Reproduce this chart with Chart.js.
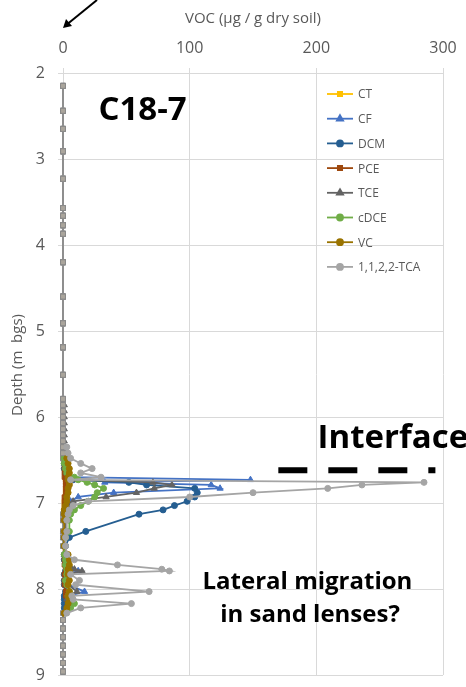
<!DOCTYPE html>
<html>
<head>
<meta charset="utf-8">
<script src="https://cdn.jsdelivr.net/npm/chart.js@4.4.1/dist/chart.umd.min.js"></script>
<style>
  html, body { margin:0; padding:0; background:#fff; }
  #wrap { width:466px; height:687px; }
</style>
</head>
<body>
<div id="wrap"><canvas id="c18"></canvas></div>
<script>
// core C18-7, depth below ground surface (m)
const depth = [
  2.15, 2.44, 2.65, 2.91, 3.23, 3.57, 3.66, 3.77,
  3.87, 4.2, 4.6, 4.91, 5.19, 5.51, 5.79, 5.86,
  5.93, 6.0, 6.07, 6.14, 6.21, 6.28, 6.35, 6.42,
  6.48, 6.54, 6.6, 6.65, 6.7, 6.73, 6.76, 6.79,
  6.83, 6.88, 6.93, 6.98, 7.03, 7.08, 7.13, 7.2,
  7.33, 7.4, 7.5, 7.6, 7.66, 7.72, 7.77, 7.79,
  7.83, 7.9, 7.95, 8.03, 8.08, 8.12, 8.17, 8.22,
  8.28, 8.36, 8.46, 8.56, 8.66, 8.76, 8.86, 8.96
];

// concentrations, ug/g dry soil (0 = not detected, null = not analysed)
const ct = [
  0, 0, 0, 0, 0, 0, 0, 0,
  0, 0, 0, 0, 0, 0, 0, 0,
  0, 0, 0, 0, 0, 0, 0, 1,
  1, 2, 2, 3, 3, 2, 3, 3,
  2, 2, 2, 1, 1, 1, 1, 0,
  0, 0, 1, 2, 3, 3, 2, 3,
  3, 2, 3, 2, 3, 2, 3, 2,
  1, 0, 0, 0, 0, 0, 0, 0
];
const cf = [
  0, 0, 0, 0, 0, 0, 0, 0,
  0, 0, 0, 0, 0, 0, 0, 0,
  0, 0, 0, 0, 0, 0, 0, 1,
  1, 1, 2, 3, 5, 148, 33, 117,
  124, 40, 12, 6, 3, 2, 1, 1,
  0.5, 0.5, 0.5, 1, 2, 3, 6, 12,
  4, 3, 4, 17, 5, 3, 6, 3,
  1, 0, 0, 0, 0, 0, 0, 0
];
const dcm = [
  0, 0, 0, 0, 0, 0, 0, 0,
  0, 0, 0, 0, 0, 0, 0, 0,
  0, 0, 0, 0, 0, 0, 0, 0,
  0, 1, 1, 2, 3, 8, 52, 66,
  104, 106, 104, 98, 88, 79, 60, null,
  18, 5, 2, 1, 1, 2, 3, 2,
  1, 1, 1, 2, 1, 1, 1, 1,
  0, 0, 0, 0, 0, 0, 0, 0
];
const pce = [
  0, 0, 0, 0, 0, 0, 0, 0,
  0, 0, 0, 0, 0, 0, 0, 0,
  0, 0, 0, 0, 0, 0, 0, 0,
  1, 1, 1, 1, 1, 2, 2, 2,
  2, 2, 1, 1, 1, 1, 0, 0,
  0, 0, 0, 1, 1, 1, 2, 2,
  1, 1, 1, 2, 2, 3, 4, 3,
  1, 0, 0, 0, 0, 0, 0, 0
];
const tce = [
  0, 0, 0, 0, 0, 0, 0, 0,
  0, 0, 0, 0, 0, 0, 0, 1,
  1, 1, 1, 1, 1, 1, 2, 2,
  2, 2, 3, 3, 4, 10, 71, 86,
  72, 58, 34, 8, 4, 3, 2, 2,
  2, 1, 1, 2, 3, 5, 9, 15,
  4, 3, 4, 11, 4, 3, 5, 3,
  1, 0, 0, 0, 0, 0, 0, 0
];
const cdce = [
  0, 0, 0, 0, 0, 0, 0, 0,
  0, 0, 0, 0, 0, 0, 0, 0,
  0, 0, 0, 0, 0, 0, 0, 0,
  1, 1, 2, 3, 9, 12, 19, 25,
  32, 27, 25, 20, 14, 9, 6, 5,
  5, 2, 1, 1, 2, 2, 3, 4,
  3, 2, 3, 5, 4, 5, 9, 6,
  2, 0, 0, 0, 0, 0, 0, 0
];
const vc = [
  0, 0, 0, 0, 0, 0, 0, 0,
  0, 0, 0, 0, 0, 0, 0, 0,
  0, 0, 0, 0, 0, 0, 0, 0,
  3, 4, 5, 5, 4, 4, 5, 5,
  4, 4, 3, 3, 2, 1, 1, 1,
  1, 1, 1, 4, 5, 5, 4, 5,
  4, 5, 4, 5, 4, 5, 4, 3,
  1, 0, 0, 0, 0, 0, 0, 0
];
const tca = [
  0, 0, 0, 0, 0, 0, 0, 0,
  0, 0, 0, 0, 0, 0, 0, 0,
  0, 0, 0, 0, 0, 0, 3, 4,
  6, 14, 23, 14, 30, 6, 285, 236,
  209, 150, 100, 20, 8, 5, 4, 3,
  3, 2, 2, 3, 9, 43, 78, 84,
  6, 13, 10, 68, 7, 8, 54, 14,
  3, 0, 0, 0, 0, 0, 0, 0
];

const compounds = ['CT', 'CF', 'DCM', 'PCE', 'TCE', 'cDCE', 'VC', '1,1,2,2-TCA'];
const colours = ['#FFC000', '#4472C4', '#255E91', '#9E480E', '#636363', '#70AD47', '#997300', '#A5A5A5'];
const markers = ['rect', 'triangle', 'circle', 'rect', 'triangle', 'circle', 'circle', 'circle'];
const series = [ct, cf, dcm, pce, tce, cdce, vc, tca];

const vocRange = [0, 300];
const vocStep = 100;
const depthRange = [2, 9];
const depthStep = 1;

const AXIS_GREY = '#595959';
const ND_FILL = '#aaa59c';
const ND_EDGE = '#8a8a8a';
const isND = c => c.raw && c.raw.x === 0;

const datasets = series.map((vals, i) => ({
  label: compounds[i],
  data: vals.map((v, k) => ({ x: v, y: depth[k] })),
  showLine: true,
  spanGaps: true,
  borderColor: colours[i],
  backgroundColor: colours[i],
  borderWidth: 1.8,
  pointStyle: c => isND(c) ? 'rect' : markers[i],
  pointRadius: c => isND(c) ? 3.5 : (markers[i] === 'triangle' ? 3.6 : 3),
  pointBackgroundColor: c => isND(c) ? ND_FILL : colours[i],
  pointBorderColor: c => isND(c) ? ND_EDGE : colours[i],
  pointBorderWidth: 1,
  segment: {
    borderColor: s => (s.p0.parsed.x === 0 && s.p1.parsed.x === 0) ? '#8f8f8f' : undefined
  },
  order: series.length - i,
  clip: false
}));

// titles, key and field notes
const notes = {
  id: 'notes',
  afterDraw(chart) {
    const c = chart.ctx;
    const xs = chart.scales.x, ys = chart.scales.y, a = chart.chartArea;
    c.save();

    c.fillStyle = AXIS_GREY;
    c.font = '15px "Open Sans"';
    c.textAlign = 'center';
    c.textBaseline = 'middle';
    c.fillText('VOC (µg / g dry soil)', (a.left + a.right) / 2, 19);
    c.save();
    c.translate(18, 365);
    c.rotate(-Math.PI / 2);
    c.fillText('Depth (m  bgs)', 0, 0);
    c.restore();

    // key
    c.font = '12px "Open Sans"';
    c.textAlign = 'left';
    datasets.forEach((d, i) => {
      const y = 94 + i * 24.7;
      c.strokeStyle = colours[i];
      c.lineWidth = 1.8;
      c.beginPath();
      c.moveTo(327, y);
      c.lineTo(353, y);
      c.stroke();
      c.fillStyle = colours[i];
      Chart.helpers.drawPoint(c, { pointStyle: markers[i], radius: markers[i] === 'triangle' ? 3.6 : 3, rotation: 0, borderWidth: 1 }, 340, y);
      c.fillStyle = AXIS_GREY;
      c.fillText(d.label, 358, y + 1);
    });

    // arrow into the core top
    c.strokeStyle = '#000';
    c.fillStyle = '#000';
    c.lineWidth = 2;
    c.beginPath();
    c.moveTo(a.left + 34, 0);
    c.lineTo(a.left + 2, 26);
    c.stroke();
    c.beginPath();
    c.moveTo(a.left, 28);
    c.lineTo(a.left + 3, 19);
    c.lineTo(a.left + 9, 26);
    c.closePath();
    c.fill();

    c.fillStyle = '#000';
    c.textAlign = 'left';
    c.textBaseline = 'alphabetic';
    c.font = 'bold 33px "Open Sans"';
    c.fillText('C18-7', xs.getPixelForValue(28), ys.getPixelForValue(2.55));
    c.fillText('Interface', xs.getPixelForValue(201), ys.getPixelForValue(6.36));

    c.lineWidth = 6;
    c.setLineDash([29, 21]);
    c.beginPath();
    c.moveTo(xs.getPixelForValue(170), ys.getPixelForValue(6.62));
    c.lineTo(xs.getPixelForValue(294), ys.getPixelForValue(6.62));
    c.stroke();
    c.setLineDash([]);

    c.textAlign = 'center';
    c.font = 'bold 24px "Open Sans"';
    c.fillText('Lateral migration', xs.getPixelForValue(193), ys.getPixelForValue(8.0));
    c.fillText('in sand lenses?', xs.getPixelForValue(195), ys.getPixelForValue(8.38));
    c.restore();
  }
};

const noEndPadding = s => {
  s.paddingTop = 0;
  s.paddingBottom = 0;
  s.paddingLeft = 0;
  s.paddingRight = 0;
};

new Chart(document.getElementById('c18'), {
  type: 'scatter',
  data: { datasets },
  options: {
    responsive: true,
    maintainAspectRatio: false,
    animation: false,
    layout: { padding: { left: 0, right: 23, top: 0, bottom: 12 } },
    plugins: { legend: { display: false }, tooltip: { enabled: false } },
    scales: {
      x: {
        type: 'linear', position: 'top', min: vocRange[0], max: vocRange[1],
        ticks: { stepSize: vocStep, color: AXIS_GREY, font: { family: 'Open Sans', size: 16 }, padding: 10 },
        grid: { color: '#d9d9d9', tickLength: 5 },
        border: { color: '#d9d9d9' },
        afterFit: s => { s.height = 73; noEndPadding(s); }
      },
      y: {
        type: 'linear', reverse: true, min: depthRange[0], max: depthRange[1],
        ticks: { stepSize: depthStep, color: AXIS_GREY, font: { family: 'Open Sans', size: 16 }, padding: 13 },
        grid: { color: '#d9d9d9', tickLength: 5 },
        border: { color: '#d9d9d9' },
        afterFit: s => { s.width = 63; noEndPadding(s); }
      }
    }
  },
  plugins: [notes]
});
</script>
</body>
</html>
